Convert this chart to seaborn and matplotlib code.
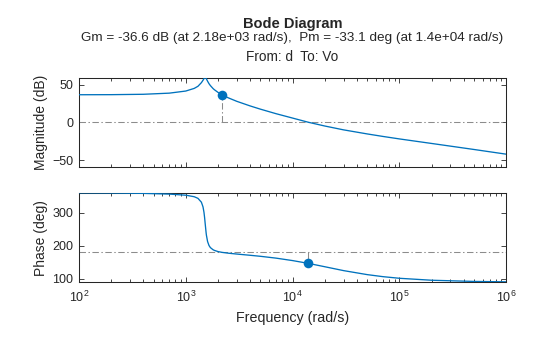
import matplotlib
matplotlib.use("Agg")
import matplotlib.pyplot as plt
import matplotlib.ticker as mticker
import seaborn as sns
import pandas as pd

# ---------------- data ----------------
freq = [100, 200, 400, 700, 1000, 1200, 1300, 1400, 1450, 1480, 1500, 1520,
        1550, 1560, 1600, 1650, 1700, 1800, 1850, 2000, 2180, 2500, 3000,
        4000, 5000, 7000, 1e4, 1.4e4, 2e4, 3e4, 5e4, 7e4, 1e5, 2e5, 5e5, 1e6]
mag_db = [36.5, 36.6, 37.1, 38.6, 41.4, 44.9, 47.7, 52.5, 55.7, 57.8, 58.9, 59.3,
          58.1, 57.5, 54.4, 51.1, 48.6, 44.7, 43.2, 39.7, 36.6, 32.4, 27.8,
          21.7, 17.4, 11.4, 5.6, 0.1, -4.9, -10.0, -15.4, -18.7, -22.0, -28.0, -36.0, -42.2]
phase_deg = [359.4, 358.9, 357.7, 355.5, 352.2, 347.6, 342.7, 331.1, 316.9, 300.7, 285.0, 265.9,
             238.9, 231.7, 212.5, 200.6, 194.3, 187.9, 186.0, 182.4, 180.0, 177.5, 174.9,
             171.2, 168.1, 162.6, 155.2, 146.9, 136.7, 125.0, 112.9, 106.8, 101.9, 96.0, 92.4, 91.2]

gm_freq, gm_mag = 2180, 36.6
pm_freq, pm_phase = 1.4e4, 146.9
mag_ref, phase_ref = 0, 180

title = "Bode Diagram"
subtitle = "Gm = -36.6 dB (at 2.18e+03 rad/s),  Pm = -33.1 deg (at 1.4e+04 rad/s)"
io_label = "From: d  To: Vo"
xticks = [1e2, 1e3, 1e4, 1e5, 1e6]
mag_ticks = [-50, 0, 50]
phase_ticks = [100, 200, 300]

df = pd.DataFrame({"freq": freq, "mag": mag_db, "phase": phase_deg})

# ---------------- style ----------------
sns.set_theme(style="ticks")
plt.rcParams["font.family"] = ["Liberation Sans", "DejaVu Sans"]
plt.rcParams["mathtext.fontset"] = "custom"
plt.rcParams["mathtext.rm"] = "Liberation Sans"
plt.rcParams["mathtext.it"] = "Liberation Sans:italic"
plt.rcParams["mathtext.bf"] = "Liberation Sans:bold"

TXT = "#262626"
BLUE = "#0072BD"
GREY = "#8c8c8c"
DASH = (6.2, 2.4, 1.4, 2.4)

fig = plt.figure(figsize=(5.6, 3.37), dpi=100)
fig.patch.set_facecolor("white")
ax1 = fig.add_axes([0.141, 0.5053, 0.763, 0.264])
ax2 = fig.add_axes([0.141, 0.164, 0.763, 0.262], sharex=ax1)

for ax in (ax1, ax2):
    ax.set_xscale("log")

# curves
sns.lineplot(data=df, x="freq", y="mag", ax=ax1, color=BLUE, lw=0.95, zorder=3)
sns.lineplot(data=df, x="freq", y="phase", ax=ax2, color=BLUE, lw=0.95, zorder=3)

# reference lines and stems
ax1.axhline(mag_ref, color=GREY, lw=0.75, dashes=DASH, zorder=1)
ax2.axhline(phase_ref, color=GREY, lw=0.75, dashes=DASH, zorder=1)
ax1.plot([gm_freq, gm_freq], [mag_ref, gm_mag], color=GREY, lw=0.75, dashes=DASH, zorder=2)
ax2.plot([pm_freq, pm_freq], [phase_ref, pm_phase], color=GREY, lw=0.75, zorder=2)

# markers
sns.scatterplot(x=[gm_freq], y=[gm_mag], ax=ax1, color=BLUE, s=48, edgecolor=BLUE,
                linewidth=0, zorder=4)
sns.scatterplot(x=[pm_freq], y=[pm_phase], ax=ax2, color=BLUE, s=48, edgecolor=BLUE,
                linewidth=0, zorder=4)

ax1.set_xlim(1e2, 1e6)
ax1.set_ylim(-58.8, 59.0)
ax2.set_ylim(91.5, 357.5)

ax1.set_yticks(mag_ticks)
ax2.set_yticks(phase_ticks)
ax2.set_xticks(xticks)
ax2.xaxis.set_major_formatter(mticker.LogFormatterMathtext())
ax2.xaxis.set_minor_locator(mticker.LogLocator(base=10, subs=range(2, 10), numticks=50))
ax2.xaxis.set_minor_formatter(mticker.NullFormatter())

for ax in (ax1, ax2):
    for sp in ax.spines.values():
        sp.set_visible(True)
        sp.set_color(TXT)
        sp.set_linewidth(0.75)
    ax.tick_params(which="both", direction="in", top=True, right=True,
                   colors=TXT, labelcolor=TXT, width=0.6)
    ax.tick_params(which="major", length=3.8, labelsize=9.0, pad=4.0)
    ax.tick_params(which="minor", length=2.2)
    ax.set_facecolor("white")
    ax.grid(False)

ax1.tick_params(axis="x", labelbottom=False)
ax2.tick_params(axis="x", pad=6)

ax1.set_xlabel("")
ax2.set_xlabel("Frequency (rad/s)", fontsize=10.3, color=TXT, labelpad=4)
ax1.set_ylabel("Magnitude (dB)", fontsize=10.0, color=TXT, labelpad=3)
ax2.set_ylabel("Phase (deg)", fontsize=10.0, color=TXT, labelpad=3)

cx = 0.141 + 0.763 / 2
fig.text(cx, 0.916, title, ha="center", va="baseline", fontsize=10.5,
         fontweight="bold", color=TXT)
fig.text(cx, 0.878, subtitle, ha="center", va="baseline", fontsize=9.7, color=TXT)
fig.text(cx, 0.818, io_label, ha="center", va="baseline", fontsize=9.8, color=TXT)

fig.savefig("out.png", dpi=100, facecolor="white")
